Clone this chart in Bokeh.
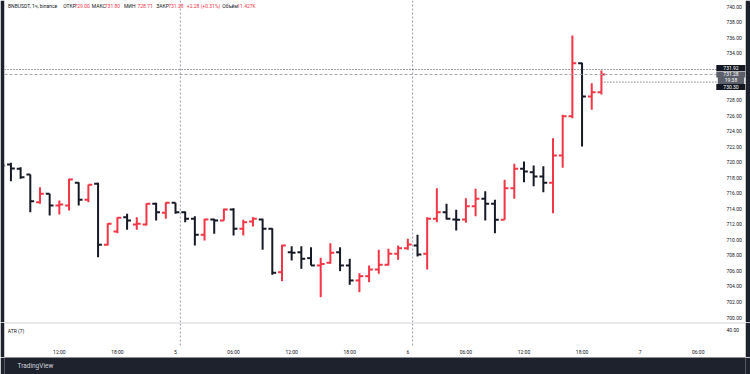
from bokeh.plotting import figure
from bokeh.models import Range1d, FixedTicker, Span, Label, ColumnDataSource, PrintfTickFormatter, LinearAxis
from bokeh.layouts import column
from bokeh.embed import file_html
from bokeh.resources import INLINE

# ---------------- data (BNBUSDT, 1h, binance) ----------------
# hour offset counted from 00:00 of day 4
hours = list(range(6, 69))
opens = [720.00, 719.70, 719.14, 718.41, 714.85, 715.93, 714.42, 714.42, 717.34, 715.15,
         717.21, 709.36, 711.07, 712.91, 711.97, 711.97, 714.64, 713.48, 714.77, 713.56,
         712.71, 710.65, 712.62, 712.49, 713.91, 711.42, 712.36, 712.62, 711.42, 705.84,
         708.41, 708.41, 707.64, 706.70, 707.05, 708.41, 706.70, 704.77, 705.32, 706.18,
         706.79, 708.20, 708.92, 709.27, 708.20, 712.71, 713.56, 712.62, 712.62, 714.33,
         715.28, 714.64, 712.58, 716.65, 719.14, 718.71, 718.15, 717.34, 720.86, 725.91,
         732.73, 728.45, 729.00]
highs = [720.20, 719.92, 719.35, 718.41, 716.78, 715.93, 715.06, 717.86, 717.42, 717.08,
         717.34, 712.14, 712.91, 713.35, 712.91, 714.72, 714.77, 714.85, 714.77, 713.65,
         713.04, 712.71, 712.71, 714.00, 714.07, 712.58, 712.91, 712.71, 711.50, 709.36,
         709.18, 709.18, 709.05, 707.69, 709.57, 709.05, 707.56, 705.71, 706.70, 708.72,
         708.85, 709.27, 710.13, 710.65, 712.91, 716.65, 714.64, 713.87, 715.36, 716.57,
         716.26, 715.15, 717.73, 719.79, 720.08, 719.57, 719.48, 723.08, 726.09, 736.30,
         732.79, 730.16, 731.80]
lows = [719.30, 717.55, 717.86, 713.56, 714.64, 713.13, 713.26, 713.78, 714.42, 714.85,
        707.77, 709.27, 710.86, 711.29, 711.29, 711.85, 712.49, 712.71, 713.35, 712.27,
        709.27, 709.92, 710.78, 712.49, 710.56, 710.56, 711.72, 708.72, 705.50, 704.68,
        707.34, 706.27, 706.70, 702.62, 706.92, 705.97, 704.21, 703.26, 704.55, 705.63,
        706.70, 707.43, 708.72, 707.86, 706.18, 712.27, 712.62, 711.20, 712.19, 713.04,
        712.49, 710.86, 712.58, 715.28, 717.42, 716.90, 716.13, 713.43, 719.27, 725.66,
        722.01, 726.74, 728.71]
closes = [719.57, 719.18, 718.06, 714.97, 715.93, 714.42, 714.55, 717.77, 715.15, 717.08,
          709.36, 712.07, 712.84, 712.49, 712.07, 714.64, 713.56, 714.77, 713.56, 712.71,
          710.65, 712.62, 712.49, 713.91, 711.42, 712.27, 712.71, 711.42, 705.76, 709.27,
          708.33, 707.56, 706.70, 706.89, 708.33, 706.70, 704.77, 705.32, 706.18, 706.79,
          708.20, 708.92, 709.40, 708.11, 712.71, 713.56, 712.71, 712.58, 714.33, 715.28,
          714.64, 712.58, 716.65, 719.14, 718.80, 718.15, 717.34, 720.86, 725.91, 732.73,
          728.45, 729.00, 731.28]

time_ticks = [6, 12, 18, 24, 30, 36, 42, 48, 54, 60, 66, 72, 78]
time_labels = ["06:00", "12:00", "18:00", "5", "06:00", "12:00", "18:00", "6",
               "06:00", "12:00", "18:00", "7", "06:00"]
session_breaks = [24.5, 48.5]
price_ticks = [700, 702, 704, 706, 708, 710, 712, 714, 716, 718, 720, 722, 724,
               726, 728, 734, 736, 738, 740]
level_high = 731.92
level_last = 731.28
level_low = 730.30
countdown = "19:38"
atr_ticks = [40]

header_parts = [("BNBUSDT, 1ч, binance", "d", 3.5), ("ОТКР", "d", 58.7), ("729.00", "r", 70),
                ("МАКС", "d", 87.3), ("731.80", "r", 100.3), ("МИН", "d", 119.5),
                ("728.71", "r", 133), ("ЗАКР", "d", 151.7), ("731.28", "r", 163.7),
                ("+2.28 (+0.31%)", "r", 182.3), ("Объём", "d", 217.7), ("11.427K", "r", 232.7)]

# ---------------- style ----------------
UP = "#f23645"
DOWN = "#161a25"
TXT = "#131722"
FRAME = "#1e222d"
FONT = "Roboto"
half = 0.4
X_START, X_END = 6.335, 82.885       # visible time window (hours)
SCALE_AT = 79.78                      # where the price scale begins
FS = "5px"

src = ColumnDataSource(dict(
    t=hours, o=opens, h=highs, l=lows, c=closes,
    tl=[t - half for t in hours], tr=[t + half for t in hours],
    col=[UP if c >= o else DOWN for o, c in zip(opens, closes)],
))

def base_fig(h, yr):
    fig = figure(width=750, height=h, x_range=Range1d(X_START, X_END), y_range=yr,
                 output_backend="svg", toolbar_location=None, x_axis_location=None,
                 y_axis_location=None, min_border_left=4, min_border_right=5,
                 min_border_top=0, min_border_bottom=0, background_fill_color="white",
                 border_fill_color=FRAME, outline_line_color=None)
    fig.grid.visible = False
    return fig

def style_axis(ax, standoff):
    ax.axis_line_color = None
    ax.major_tick_line_color = None
    ax.minor_tick_line_color = None
    ax.major_tick_out = 0
    ax.major_tick_in = 0
    ax.minor_tick_out = 0
    ax.minor_tick_in = 0
    ax.major_label_text_font_size = FS
    ax.major_label_text_color = TXT
    ax.major_label_text_font = FONT
    ax.major_label_standoff = standoff

# ---------------- price pane ----------------
p = base_fig(322, Range1d(699.36, 740.80))
p.x_range = Range1d(X_START, X_END)

for sb in session_breaks:
    p.add_layout(Span(location=sb, dimension="height", line_color="#9598a1",
                      line_dash="2 2", line_width=1))

p.add_layout(Span(location=level_high, dimension="width", line_color="#434651",
                  line_dash="1 2", line_width=1))
p.add_layout(Span(location=level_last, dimension="width", line_color="#a3a6af",
                  line_dash="3 2", line_width=1))
p.ray(x=[hours[-1]], y=[level_low], length=0, angle=0, line_color="#434651",
      line_dash="1 2", line_width=1)

p.segment(x0="t", y0="l", x1="t", y1="h", line_color="col", line_width=2, source=src)
p.segment(x0="tl", y0="o", x1="t", y1="o", line_color="col", line_width=2, source=src)
p.segment(x0="t", y0="c", x1="tr", y1="c", line_color="col", line_width=2, source=src)

yax = LinearAxis(fixed_location=SCALE_AT, ticker=FixedTicker(ticks=price_ticks),
                 formatter=PrintfTickFormatter(format="%.2f"))
style_axis(yax, 11)
p.add_layout(yax, "right")

for text, kind, xs in header_parts:
    p.add_layout(Label(x=xs, y=p.y_range.end, x_units="screen", y_offset=-5, text=text,
                       text_color=UP if kind == "r" else TXT, text_font=FONT,
                       text_font_size=FS, text_baseline="middle", text_align="left"))

def price_box(yv, text, bg, yoff):
    p.add_layout(Label(x=726.5, y=yv, x_units="screen", y_offset=yoff, text=text,
                       text_color="white", text_font=FONT, text_font_size=FS,
                       text_baseline="middle", text_align="center",
                       background_fill_color=bg, background_fill_alpha=1.0,
                       padding=dict(left=7, right=7, top=1, bottom=1)))

price_box(level_last, countdown, "#5d606b", -6)
price_box(level_last, "%.2f" % level_last, "#5d606b", 0)
price_box(level_low, "%.2f" % level_low, "#131722", -5)
price_box(level_high, "%.2f" % level_high, "#131722", 1.5)

# ---------------- ATR pane + time axis ----------------
a = base_fig(35, Range1d(-32, 61.33))
a.x_range = p.x_range
a.add_layout(Span(location=a.y_range.end, dimension="width", line_color="#d1d4dc", line_width=2))
a.segment(x0=session_breaks, y0=[0] * len(session_breaks), x1=session_breaks,
          y1=[a.y_range.end] * len(session_breaks), line_color="#9598a1",
          line_dash="2 2", line_width=1)
a.add_layout(Label(x=3.3, y=a.y_range.end, x_units="screen", y_offset=-8, text="ATR (7)",
                   text_color=TXT, text_font=FONT, text_font_size=FS,
                   text_baseline="middle"))

aty = LinearAxis(fixed_location=SCALE_AT, ticker=FixedTicker(ticks=atr_ticks),
                 formatter=PrintfTickFormatter(format="%.2f"))
style_axis(aty, 11)
a.add_layout(aty, "right")

atx = LinearAxis(fixed_location=0, ticker=FixedTicker(ticks=time_ticks),
                 major_label_overrides={t: lab for t, lab in zip(time_ticks, time_labels)})
style_axis(atx, 4)
a.add_layout(atx, "below")

# ---------------- footer ----------------
f = figure(width=750, height=17, x_range=Range1d(0, 1), y_range=Range1d(0, 1),
           output_backend="svg", toolbar_location=None, x_axis_location=None,
           y_axis_location=None, min_border=0, background_fill_color=FRAME,
           border_fill_color=FRAME, outline_line_color=None)
f.grid.visible = False
f.add_layout(Label(x=13, y=0.5, x_units="screen", text="TradingView", text_color="#d1d4dc",
                   text_font=FONT, text_font_size="6.5px", text_baseline="middle"))

layout = column(p, a, f)

open("out.html", "w").write(file_html(layout, INLINE))
